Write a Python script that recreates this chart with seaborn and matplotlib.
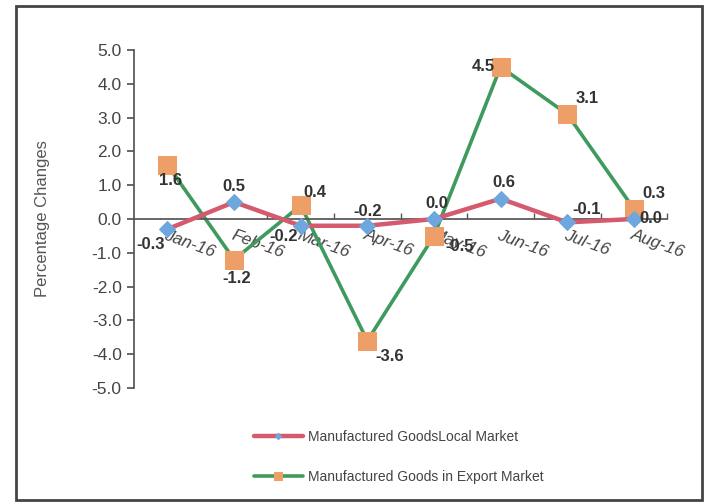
import matplotlib
matplotlib.use("Agg")
import matplotlib.pyplot as plt
from matplotlib.patches import Rectangle
from matplotlib.ticker import FormatStrFormatter, FixedLocator
import pandas as pd
import seaborn as sns

months = ["Jan-16", "Feb-16", "Mar-16", "Apr-16", "May-16", "Jun-16", "Jul-16", "Aug-16"]
local_vals = [-0.3, 0.5, -0.2, -0.2, 0.0, 0.6, -0.1, 0.0]
export_vals = [1.6, -1.2, 0.4, -3.6, -0.5, 4.5, 3.1, 0.3]
local_name = "Manufactured GoodsLocal Market"
export_name = "Manufactured Goods in Export Market"

# label offsets in points (dx, dy, ha, va)
local_offsets = [(-2, -6, "right", "top"), (0, 6, "center", "bottom"), (-2, -2, "right", "top"),
                 (0, 5, "center", "bottom"), (2, 6, "center", "bottom"), (2, 6, "center", "bottom"),
                 (4, 4, "left", "bottom"), (4, 0, "left", "center")]
export_offsets = [(2, -6, "center", "top"), (2, -8, "center", "top"), (2, 4, "left", "bottom"),
                  (6, -6, "left", "top"), (8, -2, "left", "top"), (-4, 0, "right", "center"),
                  (6, 6, "left", "bottom"), (6, 6, "left", "bottom")]

sns.set_theme(style="white")
plt.rcParams["font.family"] = ["Liberation Sans", "DejaVu Sans"]

df_local = pd.DataFrame({"month": months, "value": local_vals})
df_export = pd.DataFrame({"month": months, "value": export_vals})

fig = plt.figure(figsize=(7.06, 5.04), dpi=100)
ax = fig.add_axes([0.19, 0.23, 0.755, 0.671])

red, blue = "#d65a6e", "#6ea6de"
green, orange = "#3f9a5e", "#ee9f68"

sns.lineplot(data=df_local, x="month", y="value", ax=ax, color=red, linewidth=3.2,
             marker="D", markersize=8, markerfacecolor=blue, markeredgecolor=blue,
             sort=False, label=local_name, zorder=3)
sns.lineplot(data=df_export, x="month", y="value", ax=ax, color=green, linewidth=2.6,
             marker="s", markersize=13, markerfacecolor=orange, markeredgecolor=orange,
             sort=False, label=export_name, zorder=2)

for i, (v, off) in enumerate(zip(local_vals, local_offsets)):
    ax.annotate(f"{v:.1f}", (i, v), xytext=off[:2], textcoords="offset points",
                ha=off[2], va=off[3], fontsize=12, fontweight="bold", color="#333333", zorder=5)
for i, (v, off) in enumerate(zip(export_vals, export_offsets)):
    ax.annotate(f"{v:.1f}", (i, v), xytext=off[:2], textcoords="offset points",
                ha=off[2], va=off[3], fontsize=12, fontweight="bold", color="#333333", zorder=5)

ax.set_xlim(-0.5, len(months) - 0.5)
ax.set_ylim(-5, 5)
ax.yaxis.set_major_locator(FixedLocator([-5, -4, -3, -2, -1, 0, 1, 2, 3, 4, 5]))
ax.yaxis.set_major_formatter(FormatStrFormatter("%.1f"))
ax.tick_params(axis="y", labelsize=12.5, labelcolor="#444444", length=5, color="#555555",
               direction="out", left=True, pad=4)
ax.set_ylabel("Percentage Changes", fontsize=12, color="#555555", labelpad=30)
ax.set_xlabel("")

ax.spines["top"].set_visible(False)
ax.spines["right"].set_visible(False)
ax.spines["bottom"].set_position(("data", 0))
ax.spines["left"].set_color("#555555")
ax.spines["bottom"].set_color("#555555")

ax.set_xticks(range(len(months)))
ax.set_xticklabels(months, rotation=-20, ha="left", va="top", rotation_mode="anchor",
                   fontsize=12.5, color="#444444", style="italic")
ax.set_xticks([i + 0.5 for i in range(len(months))], minor=True)
ax.tick_params(axis="x", which="major", length=0, pad=6)
ax.tick_params(axis="x", which="minor", length=4, direction="in", color="#555555", bottom=True)

ax.get_legend().remove()
handles, labels = ax.get_legend_handles_labels()
leg = fig.legend(handles, labels, loc="center", bbox_to_anchor=(0.565, 0.093), frameon=False,
                 fontsize=10, labelspacing=1.9, handlelength=3.5, handletextpad=0.4,
                 markerscale=0.4)
for t in leg.get_texts():
    t.set_color("#444444")

fig.patches.append(Rectangle((0.022, 0.008), 0.972, 0.98, transform=fig.transFigure,
                             fill=False, edgecolor="#444444", linewidth=2))

fig.savefig("out.png", dpi=100)
